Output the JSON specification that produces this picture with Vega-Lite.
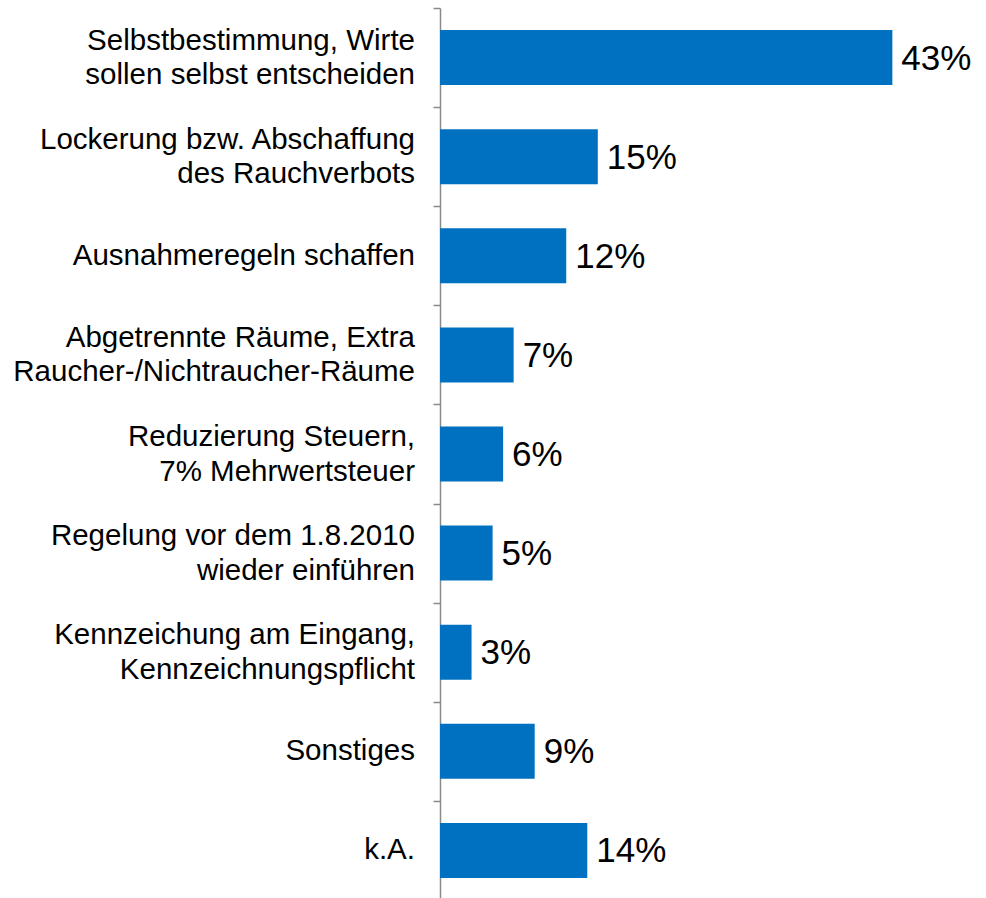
{
  "$schema": "https://vega.github.io/schema/vega-lite/v6.json",
  "autosize": "none",
  "width": 526,
  "height": 892,
  "padding": {"left": 440, "top": 8, "right": 20, "bottom": 0},
  "background": "white",
  "config": {"view": {"stroke": null}, "font": "Liberation Sans"},
  "data": {
    "values": [
      {"kategorie": "Selbstbestimmung, Wirte|sollen selbst entscheiden", "anteil": 0.43},
      {"kategorie": "Lockerung bzw. Abschaffung|des Rauchverbots", "anteil": 0.15},
      {"kategorie": "Ausnahmeregeln schaffen", "anteil": 0.12},
      {"kategorie": "Abgetrennte Räume, Extra|Raucher-/Nichtraucher-Räume", "anteil": 0.07},
      {"kategorie": "Reduzierung Steuern,|7% Mehrwertsteuer", "anteil": 0.06},
      {"kategorie": "Regelung vor dem 1.8.2010|wieder einführen", "anteil": 0.05},
      {"kategorie": "Kennzeichung am Eingang,|Kennzeichnungspflicht", "anteil": 0.03},
      {"kategorie": "Sonstiges", "anteil": 0.09},
      {"kategorie": "k.A.", "anteil": 0.14}
    ]
  },
  "encoding": {
    "y": {
      "field": "kategorie",
      "type": "nominal",
      "sort": null,
      "scale": {"paddingInner": 0, "paddingOuter": 0},
      "axis": {
        "title": null,
        "labels": false,
        "tickBand": "extent",
        "tickSize": 7,
        "tickColor": "#8a8a8a",
        "tickWidth": 1.5,
        "domainColor": "#8a8a8a",
        "domainWidth": 1.5
      }
    },
    "x": {
      "field": "anteil",
      "type": "quantitative",
      "scale": {"domain": [0, 0.5], "nice": false},
      "axis": null
    }
  },
  "layer": [
    {
      "mark": {"type": "bar", "color": "#0070C0", "height": {"band": 0.555}}
    },
    {
      "mark": {"type": "text", "align": "left", "baseline": "middle", "dx": 9, "dy": 1, "fontSize": 35, "color": "#000000"},
      "encoding": {
        "text": {"field": "anteil", "type": "quantitative", "format": ".0%"}
      }
    },
    {
      "transform": [{"filter": "indexof(datum.kategorie, '|') >= 0"}],
      "mark": {"type": "text", "align": "right", "baseline": "middle", "dx": -25, "dy": -17, "fontSize": 29.5, "lineHeight": 34.5, "lineBreak": "|", "color": "#000000"},
      "encoding": {
        "x": {"datum": 0},
        "text": {"field": "kategorie", "type": "nominal"}
      }
    },
    {
      "transform": [{"filter": "indexof(datum.kategorie, '|') < 0"}],
      "mark": {"type": "text", "align": "right", "baseline": "middle", "dx": -25, "fontSize": 29.5, "color": "#000000"},
      "encoding": {
        "x": {"datum": 0},
        "text": {"field": "kategorie", "type": "nominal"}
      }
    }
  ]
}
